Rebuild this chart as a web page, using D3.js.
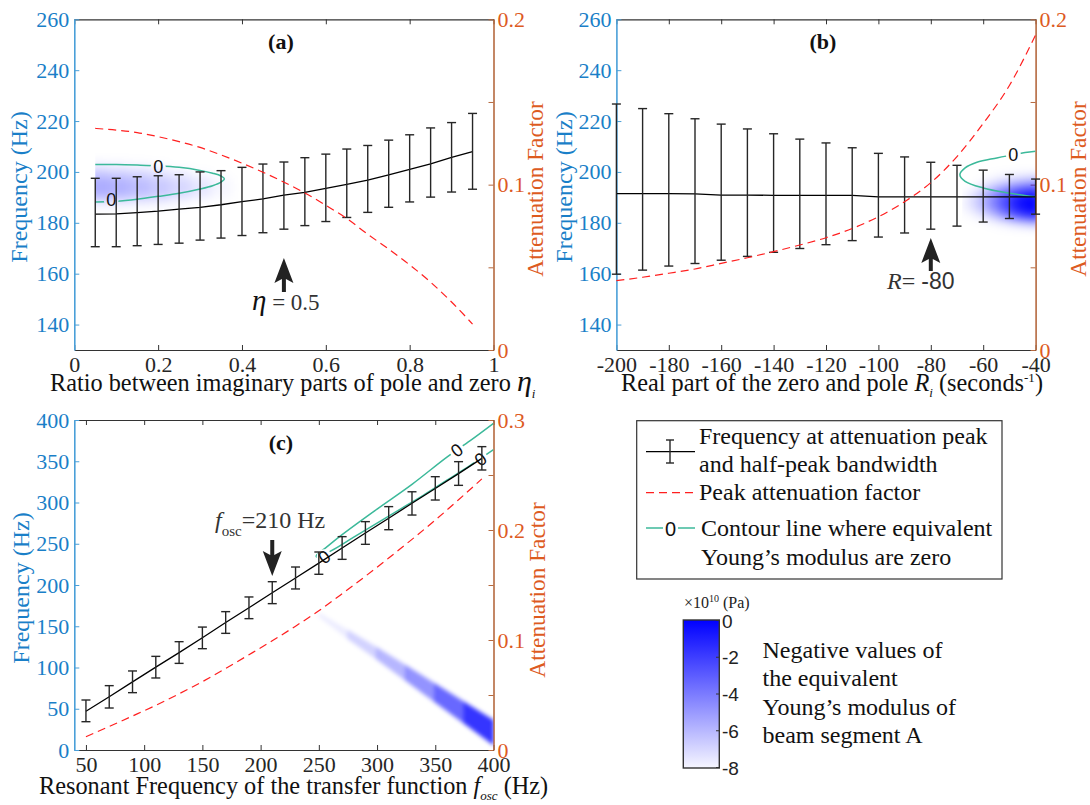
<!DOCTYPE html>
<html>
<head>
<meta charset="utf-8">
<script src="https://cdn.jsdelivr.net/npm/d3@7"></script>
<style>
body { margin: 0; background: #fff; }
svg { font-family: "Liberation Serif", "Times New Roman", serif; }
</style>
</head>
<body>
<div id="chart"></div>
<script>
// ---------- panel (a): ratio between imaginary parts ----------
var aEta   = [0.05,0.10,0.15,0.20,0.25,0.30,0.35,0.40,0.45,0.50,0.55,0.60,0.65,0.70,0.75,0.80,0.85,0.90,0.95];
var aFreq  = [183.4,183.5,184.0,184.6,185.4,186.1,187.1,188.3,189.4,190.9,192.0,193.5,195.1,196.8,198.8,201.0,203.2,205.7,208.0];
var aHi    = [197.5,197.5,198.1,198.5,198.9,200.0,200.5,201.8,203.1,203.9,205.6,207.0,209.0,210.4,212.5,214.6,217.3,219.4,223.0];
var aLo    = [170.6,170.6,171.0,171.5,172.0,173.2,174.0,175.0,176.1,177.5,178.9,180.5,182.1,184.1,186.1,188.2,190.1,192.1,193.2];
var aAtt   = [0.134,0.133,0.1315,0.129,0.126,0.1225,0.118,0.113,0.1075,0.1015,0.095,0.0875,0.0795,0.070,0.061,0.0515,0.041,0.029,0.0157];
var aContEta  = [0.05,0.10,0.15,0.20,0.25,0.30,0.33,0.35,0.358,0.35,0.33,0.30,0.25,0.20,0.15,0.10,0.05];
var aContFreq = [202.9,202.9,202.7,202.4,201.8,200.6,199.5,198.4,197.3,196.0,194.6,193.3,191.6,190.4,189.3,188.5,188.2];
var aLabEta   = [0.20, 0.088];
var aLabFreq  = [202.2, 189.1];
var aShadeEta  = [0.05,0.10,0.15,0.20,0.25,0.30,0.35];
var aShadeFreq = [188,191,194,197,200,203];
var aShade = [
  [-7.4,-7.4,-7.5,-7.6,-7.8,-8.0,-8.0],
  [-5.8,-6.0,-6.3,-6.6,-7.0,-7.4,-7.8],
  [-5.4,-5.6,-5.9,-6.3,-6.7,-7.2,-7.7],
  [-5.7,-5.9,-6.2,-6.6,-7.0,-7.4,-7.8],
  [-6.6,-6.8,-7.0,-7.3,-7.6,-7.9,-8.0],
  [-7.6,-7.7,-7.8,-7.9,-8.0,-8.0,-8.0]
];
var aXTicks = [0,0.2,0.4,0.6,0.8,1];
var aXLabels = ["0","0.2","0.4","0.6","0.8","1"];

// ---------- panel (b): real part of zero and pole ----------
var bR    = [-200,-190,-180,-170,-160,-150,-140,-130,-120,-110,-100,-90,-80,-70,-60,-50,-40];
var bFreq = [191.5,191.5,191.5,191.4,190.9,190.9,190.8,190.8,190.8,190.8,190.2,190.2,190.2,190.2,190.2,190.2,190.2];
var bHi   = [226.7,224.9,222.9,220.9,218.8,216.9,215.0,212.9,211.4,209.5,207.3,205.9,203.8,202.6,200.7,199.0,197.2];
var bLo   = [159.8,161.4,163.0,164.0,165.3,166.8,168.4,169.9,171.4,173.0,174.4,176.0,177.5,178.7,180.3,181.7,183.4];
var bAtt  = [0.0419,0.044,0.0464,0.049,0.0524,0.0558,0.0595,0.0635,0.0679,0.0735,0.0806,0.0897,0.1012,0.117,0.137,0.160,0.1905];
var bContR    = [-40,-44,-48.5,-54.8,-62.4,-66.9,-68.9,-66.9,-60,-51,-40];
var bContFreq = [208.1,207.6,206.8,205.5,203.8,201.6,198.9,196.3,193.7,191.8,190.2];
var bLabR    = [-48.5];
var bLabFreq = [206.8];
var bShadeR    = [-68,-64,-60,-56,-52,-48,-44,-40];
var bShadeFreq = [180,183,186,189,192,195,198];
var bShade = [
  [-8.0,-8.0,-8.0,-7.8,-7.5,-7.0,-6.5,-6.0],
  [-8.0,-7.8,-7.2,-6.2,-4.6,-3.0,-1.8,-1.2],
  [-7.8,-7.1,-6.0,-4.4,-2.8,-1.2,-0.3, 0.0],
  [-7.8,-6.9,-5.8,-4.2,-2.6,-1.0,-0.2, 0.0],
  [-8.0,-7.4,-6.4,-5.0,-3.8,-2.5,-1.6,-1.2],
  [-8.0,-8.0,-7.5,-6.8,-6.1,-5.3,-4.7,-4.3],
  [-8.0,-8.0,-8.0,-7.8,-7.6,-7.4,-7.2,-7.0]
];
var bXTicks = [-200,-180,-160,-140,-120,-100,-80,-60,-40];

// ---------- panel (c): resonant frequency ----------
var cF    = [50,70,90,110,130,150,170,190,210,230,250,270,290,310,330,350,370,390];
var cFreq = [47.0,64.5,82.6,100.4,118.0,136.0,154.5,172.4,190.7,208.5,226.5,244.9,263.0,281.0,299.0,317.0,335.0,353.5];
var cHi   = [60.6,78.0,95.8,113.5,131.3,149.0,167.7,185.5,204.0,221.8,240.0,258.6,276.8,295.0,313.0,331.3,349.5,367.7];
var cLo   = [34.3,50.9,69.5,87.3,105.0,122.8,141.4,159.2,177.4,195.2,213.0,231.1,249.3,267.0,284.8,303.0,320.8,339.4];
var cAtt  = [0.0121,0.0214,0.0309,0.0406,0.0511,0.0621,0.0741,0.0866,0.0993,0.1126,0.1266,0.1420,0.1580,0.1745,0.1915,0.2090,0.2275,0.2465];
var cContF    = [400,380,360,330,300,270,255,248,248,260,280,300,320,340,360,380,400];
var cContFreq = [396,375,355,322,292,261,244,236,234,241,258,275,292,309,327,345,364];
var cLabF    = [254.6,368.4,388.8];
var cLabFreq = [234.3,363.6,352.7];
var cBandF   = [250,275,300,325,350,375,400];
var cBandMid = [164,140,117,93,69,45,21];
var cBandHalf= [2,5,7,9,11,13,15];
var cBandVal = [-7.8,-7.0,-6.2,-5.2,-4.0,-2.5,-0.8];
var cXTicks = [50,100,150,200,250,300,350,400];

// colour bar
var cbTicks  = [0,-2,-4,-6,-8];

var width = 1090, height = 805;
var svg = d3.select("#chart").append("svg").attr("width", width).attr("height", height);
var defs = svg.append("defs");

var SERIF = "'Liberation Serif', 'Times New Roman', serif";
var SANS = "'Liberation Sans', Arial, sans-serif";
var blueAxis = "#4a9fd8", blueText = "#1a7fc8";
var orangeAxis = "#b5693f", orangeText = "#dd5b1f";
var frameCol = "#333333", barCol = "#262626", redCol = "#ff1f1f", greenCol = "#3cb99a";
var heatBlue = "#0000ff";

function shadeOpacity(v) { return Math.max(0, Math.min(1, (v + 8) / 8)); }

function txt(sel, size, fam) {
  return sel.style("font-family", fam || SERIF).style("font-size", size + "px");
}

function makeBlur(id, sd) {
  defs.append("filter").attr("id", id)
    .attr("x", "-50%").attr("y", "-50%").attr("width", "200%").attr("height", "200%")
    .append("feGaussianBlur").attr("stdDeviation", sd);
}
makeBlur("blurA", 5);
makeBlur("blurB", 5);
makeBlur("blurC", 2);

function styleAxis(a, lineCol, textCol, w) {
  a.attr("font-family", null).attr("font-size", null);
  a.select(".domain").attr("stroke", lineCol).attr("stroke-width", w);
  a.selectAll(".tick line").attr("stroke", lineCol);
  txt(a.selectAll("text"), 22).attr("fill", textCol);
}

function panel(p) {
  var x = d3.scaleLinear().domain(p.xDomain).range([p.left, p.right]);
  var yL = d3.scaleLinear().domain(p.yDomain).range([p.bottom, p.top]);
  var yR = d3.scaleLinear().domain(p.rDomain).range([p.bottom, p.top]);
  var g = svg.append("g");

  defs.append("clipPath").attr("id", p.id + "clip").append("rect")
    .attr("x", p.left).attr("y", p.top).attr("width", p.right - p.left).attr("height", p.bottom - p.top);

  // axes
  var bottom = g.append("g").attr("transform", "translate(0," + p.bottom + ")")
    .call(d3.axisBottom(x).tickValues(p.xTicks).tickFormat(function(d, i){ return p.xLabels ? p.xLabels[i] : String(d); })
      .tickSizeInner(-5).tickSizeOuter(0).tickPadding(6));
  var top = g.append("g").attr("transform", "translate(0," + p.top + ")")
    .call(d3.axisTop(x).tickValues(p.xTicks).tickFormat("").tickSizeInner(-5).tickSizeOuter(0));
  var left = g.append("g").attr("transform", "translate(" + p.left + ",0)")
    .call(d3.axisLeft(yL).tickValues(p.yTicks).tickSizeInner(-5).tickSizeOuter(0).tickPadding(5));
  var right = g.append("g").attr("transform", "translate(" + p.right + ",0)")
    .call(d3.axisRight(yR).tickValues(p.rTicks).tickFormat(function(d, i){ return p.rLabels[i]; })
      .tickSizeInner(-5).tickSizeOuter(0).tickPadding(4));

  styleAxis(bottom, frameCol, "#262626", 1.2);
  styleAxis(top, frameCol, "#262626", 1.2);
  styleAxis(left, blueAxis, blueText, 1.6);
  styleAxis(right, orangeAxis, orangeText, 1.6);

  // axis titles
  txt(g.append("text"), 24).attr("transform", "translate(" + p.yTitleX + "," + p.yTitleY + ") rotate(-90)")
    .attr("text-anchor", "middle").attr("fill", blueText).text("Frequency (Hz)");
  txt(g.append("text"), 23.3).attr("transform", "translate(" + p.rTitleX + "," + p.rTitleY + ") rotate(-90)")
    .attr("text-anchor", "middle").attr("fill", orangeText).text("Attenuation Factor");

  // panel letter
  txt(g.append("text"), 22).attr("x", (p.left + p.right) / 2 - 3).attr("y", p.top + 30)
    .attr("text-anchor", "middle").style("font-weight", "bold").attr("fill", "#111")
    .text(p.letter);

  return { x: x, yL: yL, yR: yR, g: g };
}

function shadeGrid(P, id, xs, ys, vals, blur) {
  defs.append("clipPath").attr("id", id + "hclip").append("rect")
    .attr("x", P.x(xs[0])).attr("y", P.yL.range()[1])
    .attr("width", P.x.range()[1] - P.x(xs[0])).attr("height", P.yL.range()[0] - P.yL.range()[1]);
  var dx = xs[1] - xs[0], dy = ys[1] - ys[0];
  var cells = [];
  ys.forEach(function(fy, i){ xs.forEach(function(fx, j){ cells.push({ x: fx, y: fy, v: vals[i][j] }); }); });
  P.g.append("g").attr("clip-path", "url(#" + id + "hclip)")
    .append("g").attr("filter", "url(#" + blur + ")")
    .selectAll("rect").data(cells).enter().append("rect")
    .attr("x", function(d){ return P.x(d.x - dx / 2); })
    .attr("width", function(d){ return P.x(d.x + dx / 2) - P.x(d.x - dx / 2) + 0.5; })
    .attr("y", function(d){ return P.yL(d.y + dy / 2); })
    .attr("height", function(d){ return P.yL(d.y - dy / 2) - P.yL(d.y + dy / 2) + 0.5; })
    .attr("fill", heatBlue)
    .attr("fill-opacity", function(d){ return shadeOpacity(d.v); });
}

function contour(P, id, xs, ys, labX, labY, rotate) {
  var m = defs.append("mask").attr("id", id + "mask").attr("maskUnits", "userSpaceOnUse")
    .attr("x", 0).attr("y", 0).attr("width", width).attr("height", height);
  m.append("rect").attr("width", width).attr("height", height).attr("fill", "#fff");
  labX.forEach(function(lx, i){
    m.append("circle").attr("cx", P.x(lx)).attr("cy", P.yL(labY[i])).attr("r", 7.5).attr("fill", "#000");
  });
  var pts = xs.map(function(v, i){ return [v, ys[i]]; });
  var line = d3.line().x(function(d){ return P.x(d[0]); }).y(function(d){ return P.yL(d[1]); }).curve(d3.curveCatmullRom);
  P.g.append("g").attr("clip-path", "url(#" + id + "clip)")
    .append("path").datum(pts).attr("d", line).attr("mask", "url(#" + id + "mask)")
    .attr("fill", "none").attr("stroke", greenCol).attr("stroke-width", 1.5);
  labX.forEach(function(lx, i){
    var cx = P.x(lx), cy = P.yL(labY[i]);
    txt(P.g.append("text"), 18, SANS).attr("x", cx).attr("y", cy + 6.5).attr("text-anchor", "middle")
      .attr("transform", rotate ? "rotate(" + rotate + "," + cx + "," + cy + ")" : null)
      .attr("fill", "#111").text("0");
  });
}

function errorBars(P, xs, mid, hi, lo) {
  var line = d3.line().x(function(d){ return P.x(d[0]); }).y(function(d){ return P.yL(d[1]); });
  P.g.append("path").datum(xs.map(function(v, i){ return [v, mid[i]]; })).attr("d", line)
    .attr("fill", "none").attr("stroke", "#000").attr("stroke-width", 1.3);
  var bars = P.g.append("g").attr("stroke", barCol).attr("stroke-width", 1.4);
  bars.selectAll(".v").data(xs).enter().append("line")
    .attr("x1", function(d){ return P.x(d); }).attr("x2", function(d){ return P.x(d); })
    .attr("y1", function(d, i){ return P.yL(hi[i]); }).attr("y2", function(d, i){ return P.yL(lo[i]); });
  [hi, lo].forEach(function(arr){
    bars.selectAll(null).data(xs).enter().append("line")
      .attr("x1", function(d){ return P.x(d) - 4.5; }).attr("x2", function(d){ return P.x(d) + 4.5; })
      .attr("y1", function(d, i){ return P.yL(arr[i]); }).attr("y2", function(d, i){ return P.yL(arr[i]); });
  });
}

function attLine(P, xs, att) {
  var line = d3.line().x(function(d){ return P.x(d[0]); }).y(function(d){ return P.yR(d[1]); }).curve(d3.curveMonotoneX);
  P.g.append("path").datum(xs.map(function(v, i){ return [v, att[i]]; })).attr("d", line)
    .attr("fill", "none").attr("stroke", redCol).attr("stroke-width", 1.2).attr("stroke-dasharray", "8,5");
}

function arrow(g, cx, tip, base, dir) {
  // dir = 1 points up, -1 points down
  var s = dir;
  var pts = [[cx, tip], [cx + 9.5, tip + s * 25], [cx + 2, tip + s * 21], [cx + 2, base],
             [cx - 2, base], [cx - 2, tip + s * 21], [cx - 9.5, tip + s * 25]];
  g.append("polygon").attr("points", pts.map(function(p){ return p.join(","); }).join(" ")).attr("fill", "#222");
}

// ================= panel (a) =================
var A = panel({ id: "a", left: 74.3, right: 493.5, top: 19.3, bottom: 350,
  xDomain: [0, 1], yDomain: [130, 260], rDomain: [0, 0.2],
  xTicks: aXTicks, xLabels: aXLabels, yTicks: [140,160,180,200,220,240,260],
  rTicks: [0,0.05,0.1,0.15,0.2], rLabels: ["0","","0.1","","0.2"],
  yTitleX: 27, yTitleY: 187, rTitleX: 543, rTitleY: 189, letter: "(a)" });
shadeGrid(A, "a", aShadeEta, aShadeFreq, aShade, "blurA");
contour(A, "a", aContEta, aContFreq, aLabEta, aLabFreq, 0);
errorBars(A, aEta, aFreq, aHi, aLo);
attLine(A, aEta, aAtt);
arrow(A.g, A.x(0.5), 258, 292, 1);
var tA = txt(A.g.append("text"), 23).attr("x", 252).attr("y", 310).attr("fill", "#333");
tA.append("tspan").style("font-style", "italic").style("font-size", "29px").attr("fill", "#111").text("η");
tA.append("tspan").text(" = 0.5");
var xa = txt(A.g.append("text"), 24.3).attr("x", 50).attr("y", 391).attr("fill", "#111");
xa.append("tspan").text("Ratio between imaginary parts of pole and zero ");
xa.append("tspan").style("font-style", "italic").style("font-size", "30px").text("η");
xa.append("tspan").style("font-style", "italic").style("font-size", "13px").attr("dy", 7).text("i");

// ================= panel (b) =================
var B = panel({ id: "b", left: 616.4, right: 1035.6, top: 19.3, bottom: 350,
  xDomain: [-200, -40], yDomain: [130, 260], rDomain: [0, 0.2],
  xTicks: bXTicks, xLabels: null, yTicks: [140,160,180,200,220,240,260],
  rTicks: [0,0.05,0.1,0.15,0.2], rLabels: ["0","","0.1","","0.2"],
  yTitleX: 572, yTitleY: 187, rTitleX: 1086, rTitleY: 189, letter: "(b)" });
shadeGrid(B, "b", bShadeR, bShadeFreq, bShade, "blurB");
contour(B, "b", bContR, bContFreq, bLabR, bLabFreq, 0);
errorBars(B, bR, bFreq, bHi, bLo);
attLine(B, bR, bAtt);
arrow(B.g, B.x(-80), 238, 271, 1);
var tB = txt(B.g.append("text"), 24).attr("x", 887).attr("y", 289).attr("fill", "#333");
tB.append("tspan").style("font-style", "italic").text("R");
tB.append("tspan").text("= ");
tB.append("tspan").style("font-family", SANS).style("font-size", "23px").text("-80");
var xb = txt(B.g.append("text"), 24.3).attr("x", 621).attr("y", 391).attr("fill", "#111");
xb.append("tspan").text("Real part of the zero and pole ");
xb.append("tspan").style("font-style", "italic").text("R");
xb.append("tspan").style("font-style", "italic").style("font-size", "13px").attr("dy", 6).text("i");
xb.append("tspan").attr("dy", -6).text(" (seconds");
xb.append("tspan").style("font-size", "13px").attr("dy", -9).text("-1");
xb.append("tspan").attr("dy", 9).text(")");

// ================= panel (c) =================
var C = panel({ id: "c", left: 74.3, right: 493.5, top: 420, bottom: 750,
  xDomain: [40, 400], yDomain: [0, 400], rDomain: [0, 0.3],
  xTicks: cXTicks, xLabels: null, yTicks: [0,50,100,150,200,250,300,350,400],
  rTicks: [0,0.05,0.1,0.15,0.2,0.25,0.3], rLabels: ["0","","0.1","","0.2","","0.3"],
  yTitleX: 29, yTitleY: 588, rTitleX: 545, rTitleY: 590, letter: "(c)" });
// diagonal shaded band
var band = C.g.append("g").attr("clip-path", "url(#cclip)").append("g").attr("filter", "url(#blurC)");
cBandF.slice(1).forEach(function(f, k){
  var i = k, j = k + 1;
  var pts = [[C.x(cBandF[i]), C.yL(cBandMid[i] + cBandHalf[i])], [C.x(cBandF[j]), C.yL(cBandMid[j] + cBandHalf[j])],
             [C.x(cBandF[j]), C.yL(cBandMid[j] - cBandHalf[j])], [C.x(cBandF[i]), C.yL(cBandMid[i] - cBandHalf[i])]];
  var op = shadeOpacity((cBandVal[i] + cBandVal[j]) / 2);
  band.append("polygon").attr("points", pts.map(function(p){ return p.join(","); }).join(" "))
    .attr("fill", heatBlue).attr("stroke", heatBlue).attr("stroke-width", 0.6)
    .attr("fill-opacity", op).attr("stroke-opacity", op);
});
contour(C, "c", cContF, cContFreq, cLabF, cLabFreq, -38);
errorBars(C, cF, cFreq, cHi, cLo);
attLine(C, cF, cAtt);
arrow(C.g, C.x(210), 576, 540, -1);
var tC = txt(C.g.append("text"), 24).attr("x", 215).attr("y", 528).attr("fill", "#333");
tC.append("tspan").style("font-style", "italic").text("f");
tC.append("tspan").style("font-size", "15px").attr("dy", 8).text("osc");
tC.append("tspan").attr("dy", -8).text("=210 Hz");
var xc = txt(C.g.append("text"), 24.3).attr("x", 39).attr("y", 794).attr("fill", "#111");
xc.append("tspan").text("Resonant Frequency of the transfer function ");
xc.append("tspan").style("font-style", "italic").text("f");
xc.append("tspan").style("font-style", "italic").style("font-size", "13px").attr("dy", 6).text("osc");
xc.append("tspan").attr("dy", -6).text(" (Hz)");

// ================= legend =================
var lg = svg.append("g");
lg.append("rect").attr("x", 636.7).attr("y", 420.7).attr("width", 365.3).attr("height", 158.3)
  .attr("fill", "#fff").attr("stroke", "#333").attr("stroke-width", 1.2);
lg.append("line").attr("x1", 646).attr("x2", 695).attr("y1", 451.7).attr("y2", 451.7).attr("stroke", "#000").attr("stroke-width", 1.3);
lg.append("line").attr("x1", 670).attr("x2", 670).attr("y1", 440).attr("y2", 463).attr("stroke", barCol).attr("stroke-width", 1.4);
lg.append("line").attr("x1", 666).attr("x2", 674).attr("y1", 440).attr("y2", 440).attr("stroke", barCol).attr("stroke-width", 1.4);
lg.append("line").attr("x1", 666).attr("x2", 674).attr("y1", 463).attr("y2", 463).attr("stroke", barCol).attr("stroke-width", 1.4);
lg.append("line").attr("x1", 646).attr("x2", 695).attr("y1", 492.7).attr("y2", 492.7)
  .attr("stroke", redCol).attr("stroke-width", 1.2).attr("stroke-dasharray", "8,5");
lg.append("line").attr("x1", 646).attr("x2", 663).attr("y1", 528).attr("y2", 528).attr("stroke", greenCol).attr("stroke-width", 1.5);
lg.append("line").attr("x1", 678).attr("x2", 695).attr("y1", 528).attr("y2", 528).attr("stroke", greenCol).attr("stroke-width", 1.5);
txt(lg.append("text"), 20, SANS).attr("x", 670.5).attr("y", 535.5).attr("text-anchor", "middle")
  .attr("fill", "#111").text("0");
var legendLines = [["Frequency at attenuation peak", 444], ["and half-peak bandwidth", 472],
                   ["Peak attenuation factor", 500], ["Contour line where equivalent", 536],
                   ["Young\u2019s modulus are zero", 564.5]];
txt(lg.selectAll(".lt").data(legendLines).enter().append("text"), 24)
  .attr("x", function(d, i){ return i < 3 ? 699 : 701; }).attr("y", function(d){ return d[1]; })
  .attr("fill", "#111").text(function(d){ return d[0]; });

// ================= colour bar =================
var grad = defs.append("linearGradient").attr("id", "cbgrad").attr("x1", 0).attr("x2", 0).attr("y1", 0).attr("y2", 1);
grad.append("stop").attr("offset", "0%").attr("stop-color", heatBlue);
grad.append("stop").attr("offset", "100%").attr("stop-color", "#f6f6ff");
var cbY = d3.scaleLinear().domain([0, -8]).range([620.5, 767.5]);
var cb = svg.append("g");
cb.append("rect").attr("x", 683.3).attr("y", 620).attr("width", 36).attr("height", 148)
  .attr("fill", "url(#cbgrad)").attr("stroke", "#333").attr("stroke-width", 1.4);
cb.selectAll(".cbt").data(cbTicks).enter().append("line")
  .attr("x1", 716).attr("x2", 719.3).attr("y1", function(d){ return cbY(d); }).attr("y2", function(d){ return cbY(d); })
  .attr("stroke", "#333");
txt(cb.selectAll(".cbl").data(cbTicks).enter().append("text"), 19, SANS)
  .attr("x", 722).attr("y", function(d){ return cbY(d) + 7; })
  .attr("fill", "#222").text(function(d){ return String(d); });
var cbt = txt(cb.append("text"), 16).attr("x", 684).attr("y", 608).attr("fill", "#222");
cbt.append("tspan").text("\u00d710");
cbt.append("tspan").style("font-size", "10px").attr("dy", -6).text("10");
cbt.append("tspan").attr("dy", 6).text(" (Pa)");
var sideText = ["Negative values of", "the equivalent", "Young\u2019s modulus of", "beam segment A"];
txt(cb.selectAll(".st").data(sideText).enter().append("text"), 24)
  .attr("x", 762.5).attr("y", function(d, i){ return 658 + i * 28.4; })
  .attr("fill", "#111").text(function(d){ return d; });
</script>
</body>
</html>
